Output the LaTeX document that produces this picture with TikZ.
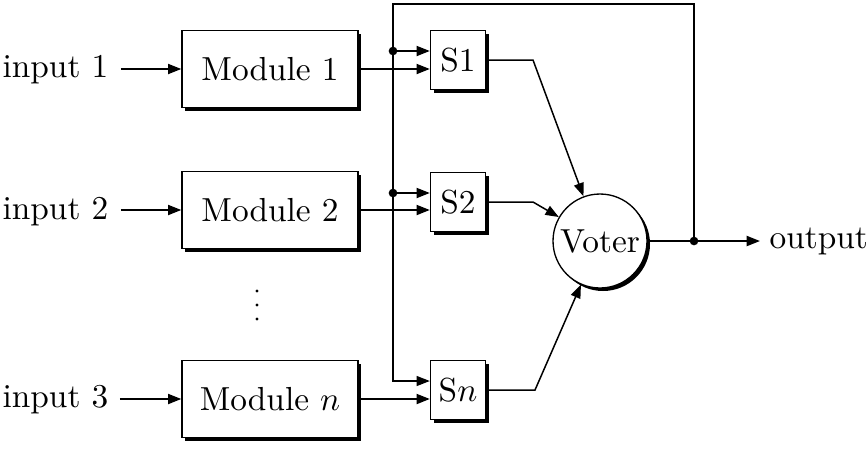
\documentclass[tikz,border=0pt]{standalone}
\usetikzlibrary{arrows.meta,shadows,calc}
\begin{document}
\begin{tikzpicture}[x=0.3pt,y=-0.3pt,
  every node/.style={font=\normalsize},
  shad/.style={drop shadow={shadow xshift=0.9pt,shadow yshift=-0.9pt,opacity=1,fill=black}},
  modbox/.style={draw,fill=white,line width=0.4pt,minimum width=52.8pt,minimum height=23.1pt,inner sep=0pt,shad},
  sbox/.style={draw,fill=white,line width=0.4pt,minimum width=16.5pt,minimum height=17.7pt,inner sep=0pt,shad},
  votern/.style={draw,fill=white,circle,line width=0.4pt,minimum size=28.2pt,inner sep=0pt,shad},
  lbl/.style={inner sep=0pt},
  arr/.style={-{Triangle[length=4pt,width=3pt]}},
  thk/.style={line width=0.6pt},
  thn/.style={line width=0.45pt},
  junc/.style={circle,fill=black,inner sep=0pt,minimum size=2.6pt},
  vdot/.style={circle,fill=black,inner sep=0pt,minimum size=1pt}
]
\useasboundingbox (0,0) rectangle (867,449);

% inputs
\node[lbl,anchor=west] (in1) at (2,70) {input 1};
\node[lbl,anchor=west] (in2) at (2,212) {input 2};
\node[lbl,anchor=west] (in3) at (2,400) {input 3};

% modules
\node[modbox] (m1) at (270,69) {Module 1};
\node[modbox] (m2) at (270,210) {Module 2};
\node[modbox] (mn) at (270,399) {Module $n$};
\node[vdot] (d1) at (257,291) {};
\node[vdot] (d2) at (257,305) {};
\node[vdot] (d3) at (257,319) {};

% switches
\node[sbox] (s1) at (458,60) {S1};
\node[sbox] (s2) at (458,202) {S2};
\node[sbox] (sn) at (458,390) {S$n$};

% voter
\node[votern] (v) at (600,241) {Voter};

% output
\node[lbl,anchor=west] (out) at (769,241) {output};

% bus coordinates
\coordinate (tl) at (393,4);
\coordinate (tr) at (694,4);
\coordinate (j) at (694,241);
\coordinate (b1) at (393,51);
\coordinate (b2) at (393,193);
\coordinate (bn) at (393,381);
\coordinate (k1) at (533,60);
\coordinate (k2) at (533,202);
\coordinate (kn) at (535,390);

% input arrows
\draw[thk,arr] ([xshift=3.6pt]in1.east |- m1.west) -- (m1.west);
\draw[thk,arr] ([xshift=3.6pt]in2.east |- m2.west) -- (m2.west);
\draw[thk,arr] ([xshift=3.3pt]in3.east |- mn.west) -- (mn.west);

% module to switch
\draw[thk,arr] (m1.east) -- (m1.east -| s1.west);
\draw[thk,arr] (m2.east) -- (m2.east -| s2.west);
\draw[thk,arr] (mn.east) -- (mn.east -| sn.west);

% feedback bus
\draw[thn,arr] (j) -- (tr) -- (tl) -- (bn) -- (bn -| sn.west);
\draw[thk,arr] (b1) -- (b1 -| s1.west);
\draw[thk,arr] (b2) -- (b2 -| s2.west);
\node[junc] at (b1) {};
\node[junc] at (b2) {};

% switch to voter
\draw[thn,arr] (s1.east) -- (k1) -- (v);
\draw[thn,arr] (s2.east) -- (k2) -- (v);
\draw[thn,arr] (sn.east) -- (kn) -- (v);

% output
\draw[thk,arr] (v.east) -- (j) -- ([xshift=-2.7pt]out.west);
\node[junc] at (j) {};
\end{tikzpicture}
\end{document}
